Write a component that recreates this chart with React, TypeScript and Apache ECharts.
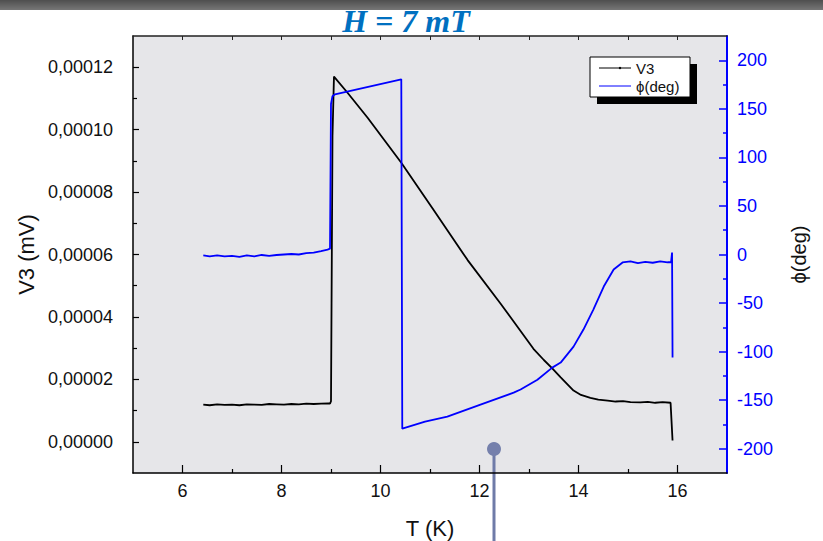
import React, { useEffect, useRef } from 'react';
import * as echarts from 'echarts';

const titleText = 'H = 7 mT';
const xName = 'T (K)';
const leftName = 'V3 (mV)';
const rightName = 'ϕ(deg)';
const legendNames = ['V3', 'ϕ(deg)'];

const xTickLabels = [6, 8, 10, 12, 14, 16];
const xMinorTicks = [7, 9, 11, 13, 15];
const xTopTicks = [6, 7, 8, 9, 10, 11, 12, 13, 14, 15, 16];
const leftTickLabels = [0, 0.00002, 0.00004, 0.00006, 0.00008, 0.0001, 0.00012];
const leftMinorTicks = [0.00001, 0.00003, 0.00005, 0.00007, 0.00009, 0.00011];
const rightTickLabels = [-200, -150, -100, -50, 0, 50, 100, 150, 200];
const rightMinorTicks = [-175, -125, -75, -25, 25, 75, 125, 175];

const v3T = [
  6.42, 6.55, 6.7, 6.85, 7.0, 7.15, 7.3, 7.45, 7.6, 7.75, 7.9, 8.05, 8.2, 8.35, 8.5, 8.65, 8.8, 8.95, 8.98,
  9.0, 9.03, 9.06, 9.33, 9.74, 10.42, 11.07, 11.76, 12.42, 13.09, 13.3, 13.47, 13.64, 13.9, 14.05, 14.24,
  14.4, 14.59, 14.75, 14.9, 15.05, 15.25, 15.4, 15.55, 15.7, 15.86, 15.9,
];
const v3Values = [
  1.19e-5, 1.17e-5, 1.2e-5, 1.18e-5, 1.19e-5, 1.17e-5, 1.2e-5, 1.19e-5, 1.18e-5, 1.21e-5, 1.2e-5, 1.19e-5,
  1.21e-5, 1.2e-5, 1.22e-5, 1.21e-5, 1.22e-5, 1.23e-5, 1.22e-5,
  1.3e-5, 9.8e-5, 1.17e-4, 1.119e-4, 1.038e-4, 8.94e-5, 7.43e-5, 5.82e-5, 4.44e-5, 2.98e-5, 2.62e-5,
  2.35e-5, 2.06e-5, 1.64e-5, 1.5e-5, 1.41e-5,
  1.35e-5, 1.32e-5, 1.29e-5, 1.3e-5, 1.27e-5, 1.26e-5, 1.28e-5, 1.25e-5, 1.27e-5, 1.25e-5, 4e-7,
];

const phiT = [
  6.42, 6.55, 6.7, 6.85, 7.0, 7.15, 7.3, 7.45, 7.6, 7.75, 7.9, 8.05, 8.2, 8.35, 8.5, 8.65, 8.8, 8.93, 8.98,
  9.0, 9.03, 9.08, 10.42, 10.44, 10.9, 11.35, 12.02, 12.69, 12.83, 13.17, 13.47, 13.64, 13.9, 14.1, 14.3,
  14.51, 14.71, 14.89, 15.05, 15.2, 15.35, 15.5, 15.65, 15.8, 15.87, 15.89, 15.9,
];
const phiValues = [
  -1, -2, -1, -2, -1.5, -2.5, -1, -2, -0.5, -1.5, -0.5, 0, 0.5, 0, 1.5, 2, 3.5, 5, 6,
  155, 163, 165, 180.4, -179.4, -172, -167, -154.6, -142.3, -139, -128.9, -116.5, -111.3, -94.9, -77.3, -56.7,
  -33, -15.5, -8.2, -7, -9, -7.5, -8.5, -7, -8, -8, 2, -106,
];

const fontSans = 'Liberation Sans, Arial, sans-serif';

export default function App() {
  const ref = useRef<HTMLDivElement>(null);
  useEffect(() => {
    if (!ref.current) return;
    const chart = echarts.init(ref.current, undefined, { renderer: 'svg' });
    const v3Data = v3T.map((t, i) => [t, v3Values[i]]);
    const phiData = phiT.map((t, i) => [t, phiValues[i]]);
    const blue = '#0000FF';
    chart.setOption({
      animation: false,
      backgroundColor: '#ffffff',
      title: {
        text: titleText,
        left: 401,
        top: 0,
        textAlign: 'center',
        textStyle: {
          color: '#0070C0',
          fontFamily: 'Liberation Serif, serif',
          fontWeight: 'bold',
          fontStyle: 'italic',
          fontSize: 32,
        },
        z: 20,
      },
      grid: {
        left: 133,
        right: 96,
        top: 36,
        bottom: 68,
        show: true,
        backgroundColor: '#E6E6E9',
        borderWidth: 0,
        outerBoundsMode: 'none',
      },
      xAxis: [
        {
          type: 'value',
          position: 'bottom',
          min: 5,
          max: 17,
          axisLine: { onZero: false, lineStyle: { color: '#000', width: 1.5 } },
          axisTick: { inside: true, length: 8, customValues: xTickLabels, lineStyle: { color: '#000', width: 1.2 } },
          axisLabel: {
            customValues: xTickLabels,
            fontSize: 18,
            color: '#111',
            fontFamily: fontSans,
            margin: 9,
          },
          splitLine: { show: false },
          name: xName,
          nameLocation: 'middle',
          nameGap: 44,
          nameTextStyle: { fontSize: 22, color: '#111', fontFamily: fontSans },
        },
        {
          type: 'value',
          position: 'bottom',
          min: 5,
          max: 17,
          axisLine: { show: false, onZero: false },
          axisTick: { inside: true, length: 4, customValues: xMinorTicks, lineStyle: { color: '#000', width: 1.2 } },
          axisLabel: { show: false },
          splitLine: { show: false },
        },
        {
          type: 'value',
          position: 'top',
          min: 5,
          max: 17,
          axisLine: { onZero: false, lineStyle: { color: '#222', width: 1.5 } },
          axisTick: { inside: true, length: 4, customValues: xTopTicks, lineStyle: { color: '#222', width: 1 } },
          axisLabel: { show: false },
          splitLine: { show: false },
        },
      ],
      yAxis: [
        {
          type: 'value',
          position: 'left',
          min: -0.00001,
          max: 0.00013,
          axisLine: { show: true, onZero: false, lineStyle: { color: '#000', width: 1.5 } },
          axisTick: { show: true, inside: true, length: 6, customValues: leftTickLabels, lineStyle: { color: '#000', width: 1.2 } },
          axisLabel: {
            customValues: leftTickLabels,
            formatter: (v: number) => v.toFixed(5).replace('.', ','),
            fontSize: 18,
            color: '#111',
            fontFamily: fontSans,
            margin: 20,
          },
          splitLine: { show: false },
          name: leftName,
          nameLocation: 'middle',
          nameGap: 86,
          nameTextStyle: { fontSize: 22, color: '#111', fontFamily: fontSans },
        },
        {
          type: 'value',
          position: 'right',
          min: -225,
          max: 225,
          axisLine: { show: true, onZero: false, lineStyle: { color: blue, width: 2 } },
          axisTick: { show: true, inside: true, length: 8, customValues: rightTickLabels, lineStyle: { color: blue, width: 1.5 } },
          axisLabel: {
            customValues: rightTickLabels,
            fontSize: 18,
            color: blue,
            fontFamily: fontSans,
            margin: 10,
          },
          splitLine: { show: false },
          name: rightName,
          nameLocation: 'middle',
          nameRotate: 90,
          nameGap: 62,
          nameTextStyle: { fontSize: 20, color: '#111', fontFamily: fontSans },
        },
        {
          type: 'value',
          position: 'left',
          min: -0.00001,
          max: 0.00013,
          axisLine: { show: false, onZero: false },
          axisTick: { show: true, inside: true, length: 4, customValues: leftMinorTicks, lineStyle: { color: '#000', width: 1.2 } },
          axisLabel: { show: false },
          splitLine: { show: false },
        },
        {
          type: 'value',
          position: 'right',
          min: -225,
          max: 225,
          axisLine: { show: false, onZero: false },
          axisTick: { show: true, inside: true, length: 4, customValues: rightMinorTicks, lineStyle: { color: blue, width: 1.5 } },
          axisLabel: { show: false },
          splitLine: { show: false },
        },
      ],
      series: [
        {
          name: legendNames[0],
          type: 'line',
          data: v3Data,
          xAxisIndex: 0,
          yAxisIndex: 0,
          symbol: 'none',
          lineStyle: { color: '#000', width: 1.8 },
          z: 3,
        },
        {
          name: legendNames[1],
          type: 'line',
          data: phiData,
          xAxisIndex: 0,
          yAxisIndex: 1,
          symbol: 'none',
          lineStyle: { color: blue, width: 1.8 },
          z: 4,
        },
      ],
      graphic: [
        {
          type: 'rect',
          shape: { x: 0, y: 0, width: 823, height: 10 },
          style: {
            fill: new echarts.graphic.LinearGradient(0, 0, 0, 1, [
              { offset: 0, color: '#4e4e4e' },
              { offset: 1, color: '#767676' },
            ]),
          },
          z: 5,
          silent: true,
        },
        {
          type: 'group',
          z: 30,
          children: [
            { type: 'rect', shape: { x: 597, y: 64, width: 100, height: 40 }, style: { fill: '#000' } },
            { type: 'rect', shape: { x: 590, y: 57, width: 100, height: 40 }, style: { fill: '#fff', stroke: '#000', lineWidth: 1 } },
            { type: 'line', shape: { x1: 599, y1: 68, x2: 631, y2: 68 }, style: { stroke: '#000', lineWidth: 1 } },
            { type: 'circle', shape: { cx: 620, cy: 68, r: 1.2 }, style: { fill: '#000' } },
            { type: 'text', x: 636, y: 68, style: { text: legendNames[0], fill: '#111', font: '15px Liberation Sans, Arial, sans-serif', verticalAlign: 'middle' } },
            { type: 'line', shape: { x1: 599, y1: 86, x2: 631, y2: 86 }, style: { stroke: blue, lineWidth: 1 } },
            { type: 'text', x: 636, y: 86, style: { text: legendNames[1], fill: '#111', font: '15px Liberation Sans, Arial, sans-serif', verticalAlign: 'middle' } },
          ],
        },
        {
          type: 'group',
          z: 30,
          children: [
            { type: 'line', shape: { x1: 494, y1: 449, x2: 494, y2: 541 }, style: { stroke: '#6F7BA8', lineWidth: 3 } },
            { type: 'circle', shape: { cx: 494, cy: 449, r: 7 }, style: { fill: '#7580AC' } },
          ],
        },
      ],
    });
    return () => chart.dispose();
  }, []);
  return <div ref={ref} style={{ position: 'fixed', left: 0, top: 0, width: 823, height: 541 }} />;
}
